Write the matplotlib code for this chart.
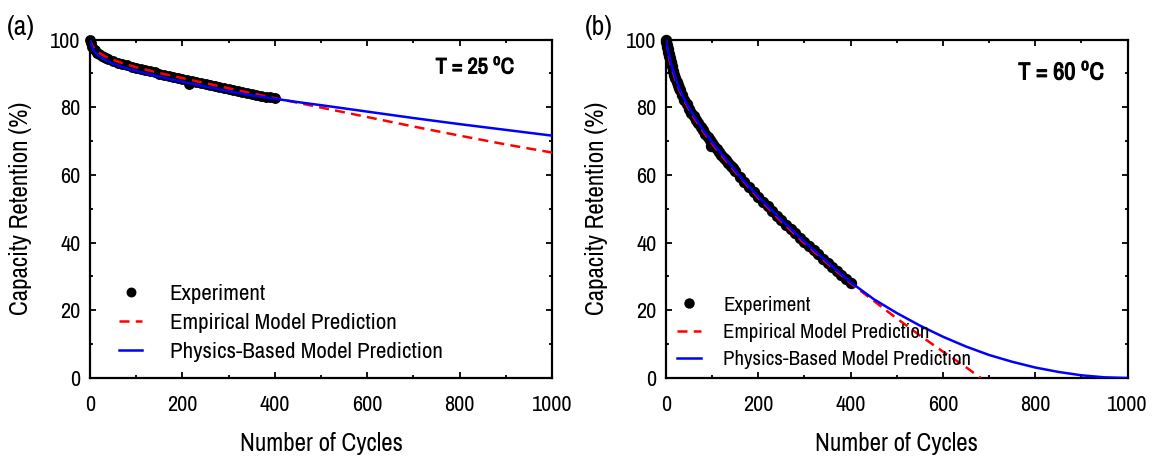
import matplotlib
matplotlib.use("Agg")
import matplotlib.pyplot as plt
import matplotlib.patheffects as pe
from matplotlib.ticker import MultipleLocator

plt.rcParams["font.family"] = ["Archivo Narrow", "Liberation Sans", "DejaVu Sans"]
plt.rcParams["mathtext.fontset"] = "custom"
plt.rcParams["mathtext.bf"] = "Archivo Narrow"
plt.rcParams["mathtext.rm"] = "Archivo Narrow"

# ---- data ----
# (a) T = 25 C
cyc_a_exp = [0, 2, 5, 10, 15, 20, 25, 30, 35, 40, 50, 60, 70, 80, 90, 100, 110, 120, 130, 140,
             150, 160, 170, 180, 190, 200, 210, 214, 220, 230, 240, 250, 260, 270, 280,
             290, 300, 310, 320, 330, 340, 350, 360, 370, 380, 390, 400]
exp_a = [100, 98.9, 97.9, 96.8, 96.1, 95.6, 95.2, 94.8, 94.5, 94.2, 93.7, 93.2, 92.8, 92.4,
         92.0, 91.6, 91.2, 90.9, 90.6, 90.3, 89.9, 89.6, 89.3, 89.0, 88.7, 88.4, 88.1, 86.9,
         87.8, 87.5, 87.2, 86.9, 86.6, 86.3, 86.0, 85.7, 85.4, 85.1, 84.8, 84.5, 84.3, 84.0,
         83.7, 83.4, 83.1, 82.9, 82.6]
cyc_a_mod = [0, 2, 5, 10, 20, 30, 50, 75, 100, 150, 200, 250, 300, 350, 400, 450, 500,
             600, 700, 800, 900, 1000]
emp_a = [100, 99.1, 98.2, 97.2, 96.0, 95.2, 94.0, 92.8, 91.8, 90.1, 88.6, 87.1, 85.6, 84.1,
         82.7, 81.3, 79.9, 77.1, 74.3, 71.6, 69.0, 66.6]
phy_a = [100, 98.7, 97.5, 96.4, 95.1, 94.2, 92.8, 91.7, 90.7, 89.0, 87.5, 86.1, 84.7, 83.5,
         82.5, 81.5, 80.6, 78.7, 76.8, 75.0, 73.3, 71.6]

# (b) T = 60 C
cyc_b_exp = [0, 1, 2, 3, 4, 5, 6, 7, 8, 10, 12, 15, 18, 20, 23, 25, 28, 30, 35, 40, 45, 50,
             55, 60, 65, 70, 75, 80, 85, 90, 95, 98, 100, 105, 110, 115, 120, 125, 130, 135,
             140, 145, 150, 160, 170, 180, 190, 200, 210, 220, 230, 240, 250, 260, 270,
             280, 290, 300, 310, 320, 330, 340, 350, 360, 370, 380, 390, 400]
exp_b = [100, 99.2, 98.5, 97.8, 97.1, 96.4, 95.7, 95.1, 94.5, 93.3, 92.3, 90.8, 89.5, 88.6,
         87.4, 86.7, 85.7, 85.0, 83.5, 82.1, 80.8, 79.6, 78.4, 77.3, 76.2, 75.2, 74.2, 73.2,
         72.2, 71.3, 70.4, 68.6, 69.5, 68.6, 67.7, 66.8, 66.0, 65.1, 64.3, 63.5, 62.7, 61.9,
         61.1, 59.5, 58.0, 56.5, 55.0, 53.5, 52.1, 50.7, 49.3, 47.9, 46.6, 45.3, 44.0, 42.7,
         41.4, 40.2, 38.9, 37.7, 36.5, 35.3, 34.1, 32.9, 31.7, 30.5, 29.3, 28.1]
cyc_b_phy = [0, 2, 5, 10, 20, 30, 40, 50, 60, 80, 100, 125, 150, 175, 200, 250, 300, 350,
             400, 450, 500, 550, 600, 650, 700, 750, 800, 850, 900, 950, 1000]
phy_b = [100, 98.3, 96.2, 93.4, 88.8, 85.2, 82.3, 79.8, 77.5, 73.4, 69.7, 65.5, 61.3, 57.3,
         53.6, 46.7, 40.3, 34.2, 28.3, 23.3, 19.2, 15.5, 12.2, 9.3, 6.8, 4.8, 3.1, 1.8, 0.8,
         0.2, 0.0]
cyc_b_emp = [0, 2, 5, 10, 20, 30, 40, 50, 60, 80, 100, 125, 150, 175, 200, 250, 300, 350,
             400, 450, 500, 550, 600, 650, 682]
emp_b = [100, 97.9, 95.6, 92.7, 88.2, 84.7, 81.8, 79.3, 77.0, 72.9, 69.2, 65.0, 60.9, 57.0,
         53.2, 46.2, 39.8, 33.8, 28.0, 22.8, 17.6, 12.6, 7.8, 3.2, 0.0]

labels = ["Experiment", "Empirical Model Prediction", "Physics-Based Model Prediction"]

fig = plt.figure(figsize=(11.56, 4.63), dpi=100)
ax1 = fig.add_axes([90 / 1156, 85 / 463, 462 / 1156, 338.5 / 463])
ax2 = fig.add_axes([666 / 1156, 85 / 463, 461.5 / 1156, 338.5 / 463])


def draw(ax, cx, yx, ce, ye, cp, yp, ms, leg_xy, leg_fs, hl, htp, ls, temp, txt_xy, txt_fs):
    ax.plot(cx, yx, 'o', color='black', ms=ms, clip_on=False, zorder=2, label=labels[0])
    ax.plot(ce, ye, color='red', lw=1.8, ls=(0, (4.0, 2.5)), zorder=3, label=labels[1])
    ax.plot(cp, yp, color='blue', lw=1.8, zorder=4, label=labels[2])
    ax.set_xlim(0, 1000)
    ax.set_ylim(0, 100)
    ax.xaxis.set_major_locator(MultipleLocator(200))
    ax.xaxis.set_minor_locator(MultipleLocator(100))
    ax.yaxis.set_major_locator(MultipleLocator(20))
    ax.yaxis.set_minor_locator(MultipleLocator(10))
    ax.tick_params(which='both', direction='in', top=True, right=True, width=1.3)
    ax.tick_params(which='major', length=4.5)
    ax.tick_params(which='minor', length=2.5)
    ax.tick_params(axis='x', labelsize=16, pad=12)
    ax.tick_params(axis='y', labelsize=16, pad=7)
    for s in ax.spines.values():
        s.set_linewidth(1.6)
    ax.set_xlabel("Number of Cycles", size=18)
    ax.set_ylabel("Capacity Retention (%)", size=18)
    ax.xaxis.set_label_coords(0.5, -0.16)
    ax.yaxis.set_label_coords(-0.125, 0.5)
    ax.legend(loc='upper left', bbox_to_anchor=leg_xy, frameon=False, fontsize=leg_fs,
              handlelength=hl, handletextpad=htp, labelspacing=ls, borderpad=0,
              borderaxespad=0, numpoints=1, markerscale=0.9)
    t = ax.text(txt_xy[0], txt_xy[1], "T = %d $^{\\mathrm{o}}$C" % temp, transform=ax.transAxes,
                ha='right', va='center', fontsize=txt_fs)
    t.set_path_effects([pe.withStroke(linewidth=0.8, foreground='black')])


draw(ax1, cyc_a_exp, exp_a, cyc_a_mod, emp_a, cyc_a_mod, phy_a, 6.8, (0.063, 0.278), 16.5,
     1.0, 1.2, 0.4, 25, ((515 - 90) / 462, (378 - 67) / 338.5), 16)
draw(ax2, cyc_b_exp, exp_b, cyc_b_emp, emp_b, cyc_b_phy, phy_b, 7.2, (0.023, 0.243), 15,
     1.15, 1.1, 0.4, 60, ((1105 - 666) / 461.5, (378 - 72) / 338.5), 17.5)

fig.text(7 / 1156, 1 - 27 / 463, "(a)", fontsize=20, va='center', ha='left')
fig.text(585 / 1156, 1 - 27 / 463, "(b)", fontsize=20, va='center', ha='left')

fig.savefig("out.png", dpi=100)
